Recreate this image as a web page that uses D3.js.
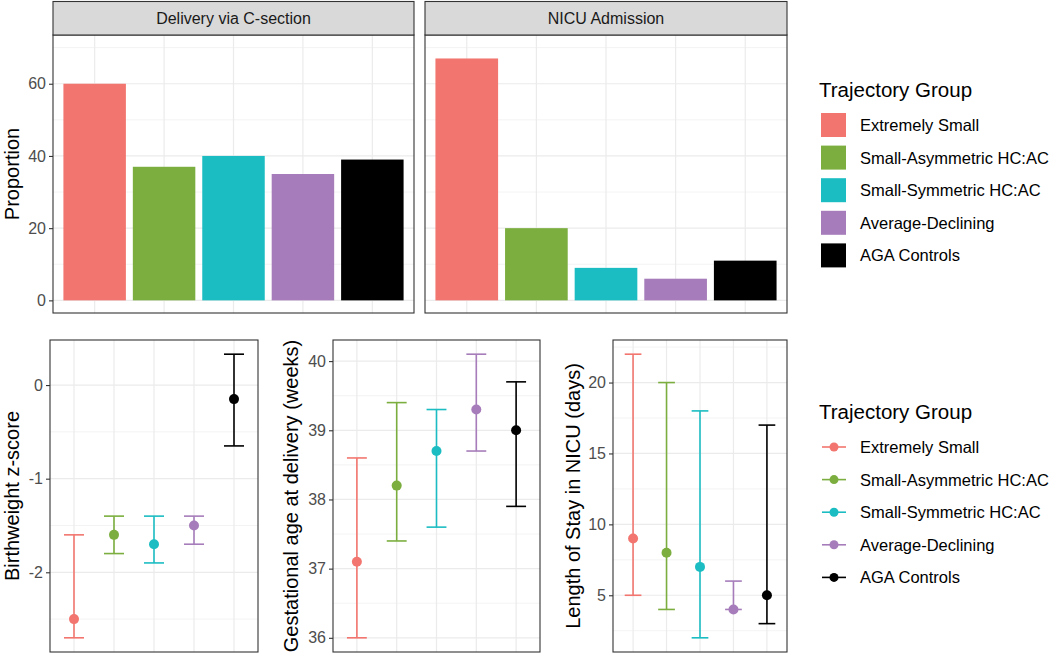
<!DOCTYPE html>
<html>
<head>
  <meta charset="utf-8">
  <script src="https://d3js.org/d3.v7.min.js"></script>
  <title>Trajectory groups</title>
  <style>
    body { margin: 0; background: #fff; }
    text { font-family: "Liberation Sans", Arial, sans-serif; }
  </style>
</head>
<body>
<div class="chart"></div>
<script>
// groups and colours
var groups = ['Extremely Small', 'Small-Asymmetric HC:AC', 'Small-Symmetric HC:AC',
              'Average-Declining', 'AGA Controls'];
var colors = ['#F2766F', '#7BAE3E', '#1BBDC2', '#A67DBA', '#000000'];

// top row: proportions
var facets = ['Delivery via C-section', 'NICU Admission'];
var csection = [60, 37, 40, 35, 39];
var nicuAdmit = [67, 20, 9, 6, 11];
var propTicks = [0, 20, 40, 60];

// bottom row: medians with ranges
var bwMean = [-2.5, -1.6, -1.7, -1.5, -0.15];
var bwLow  = [-2.7, -1.8, -1.9, -1.7, -0.65];
var bwHigh = [-1.6, -1.4, -1.4, -1.4, 0.33];
var bwTicks = [-2, -1, 0];

var gaMean = [37.1, 38.2, 38.7, 39.3, 39.0];
var gaLow  = [36.0, 37.4, 37.6, 38.7, 37.9];
var gaHigh = [38.6, 39.4, 39.3, 40.1, 39.7];
var gaTicks = [36, 37, 38, 39, 40];

var losMean = [9, 8, 7, 4, 5];
var losLow  = [5, 4, 2, 4, 3];
var losHigh = [22, 20, 18, 6, 17];
var losTicks = [5, 10, 15, 20];

var W = 1050, H = 660;
var svg = d3.select('.chart').append('svg')
  .attr('width', W).attr('height', H);

var grid = '#EBEBEB', border = '#333333', tickCol = '#4D4D4D';

function expand(lo, hi) {
  var d = (hi - lo) * 0.05;
  return [lo - d, hi + d];
}

// draws background grid + y axis for a panel, returns scales
function panel(x0, x1, y0, y1, domain, ticks, withAxis) {
  var x = d3.scaleLinear().domain([0.4, 5.6]).range([x0, x1]);
  var y = d3.scaleLinear().domain(domain).range([y1, y0]);
  var g = svg.append('g');
  // minor grid halfway between breaks
  var step = ticks[1] - ticks[0];
  var minor = [];
  for (var i = 0; i < ticks.length + 1; i++) {
    var v = ticks[0] - step / 2 + i * step;
    if (v > domain[0] && v < domain[1]) minor.push(v);
  }
  g.selectAll('.minor').data(minor).enter().append('line')
    .attr('x1', x0).attr('x2', x1)
    .attr('y1', function(d) { return y(d); }).attr('y2', function(d) { return y(d); })
    .attr('stroke', grid).attr('stroke-width', 0.6);
  g.selectAll('.major').data(ticks).enter().append('line')
    .attr('x1', x0).attr('x2', x1)
    .attr('y1', function(d) { return y(d); }).attr('y2', function(d) { return y(d); })
    .attr('stroke', grid).attr('stroke-width', 1.2);
  g.selectAll('.vgrid').data([1, 2, 3, 4, 5]).enter().append('line')
    .attr('y1', y0).attr('y2', y1)
    .attr('x1', function(d) { return x(d); }).attr('x2', function(d) { return x(d); })
    .attr('stroke', grid).attr('stroke-width', 1.2);
  if (withAxis) {
    var ax = svg.append('g').attr('transform', 'translate(' + x0 + ',0)')
      .call(d3.axisLeft(y).tickValues(ticks).tickSize(4).tickPadding(3)
        .tickFormat(function(d) { return String(d); }));
    ax.select('.domain').remove();
    ax.selectAll('line').attr('stroke', border).attr('stroke-width', 1.1);
    ax.selectAll('text').attr('fill', tickCol).style('font-size', '16px')
      .style('font-family', '"Liberation Sans", Arial, sans-serif');
  }
  return {x: x, y: y, x0: x0, x1: x1, y0: y0, y1: y1};
}

function frame(p) {
  svg.append('rect').attr('x', p.x0).attr('y', p.y0)
    .attr('width', p.x1 - p.x0).attr('height', p.y1 - p.y0)
    .attr('fill', 'none').attr('stroke', border).attr('stroke-width', 1.1);
}

function yTitle(label, x, cy) {
  svg.append('text').attr('transform', 'translate(' + x + ',' + cy + ') rotate(-90)')
    .attr('text-anchor', 'middle').style('font-size', '20px').attr('fill', '#000')
    .text(label);
}

// ---- top row: bar facets
var topDomain = expand(0, 70);
var topPanels = [[53, 414], [425, 787]];
var topData = [csection, nicuAdmit];
topPanels.forEach(function(pp, k) {
  var p = panel(pp[0], pp[1], 35, 313, topDomain, propTicks, k === 0);
  svg.append('g').selectAll('rect').data(topData[k]).enter().append('rect')
    .attr('x', function(d, i) { return p.x(i + 1 - 0.45); })
    .attr('width', p.x(1.45) - p.x(0.55))
    .attr('y', function(d) { return p.y(d); })
    .attr('height', function(d) { return p.y(0) - p.y(d); })
    .attr('fill', function(d, i) { return colors[i]; });
  frame(p);
  // strip
  svg.append('rect').attr('x', pp[0]).attr('y', 1.5)
    .attr('width', pp[1] - pp[0]).attr('height', 33.5)
    .attr('fill', '#D9D9D9').attr('stroke', border).attr('stroke-width', 1.1);
  svg.append('text').attr('x', (pp[0] + pp[1]) / 2).attr('y', 24)
    .attr('text-anchor', 'middle').style('font-size', '16px').attr('fill', '#1A1A1A')
    .text(facets[k]);
});
yTitle('Proportion', 19, 174);

// ---- bottom row: point ranges
var bottom = [
  {x0: 50, x1: 258, mean: bwMean, lo: bwLow, hi: bwHigh, ticks: bwTicks,
   title: 'Birthweight z-score', tx: 19},
  {x0: 333, x1: 540, mean: gaMean, lo: gaLow, hi: gaHigh, ticks: gaTicks,
   title: 'Gestational age at delivery (weeks)', tx: 298},
  {x0: 613, x1: 787, mean: losMean, lo: losLow, hi: losHigh, ticks: losTicks,
   title: 'Length of Stay in NICU (days)', tx: 580}
];
bottom.forEach(function(b) {
  var dom = expand(d3.min(b.lo), d3.max(b.hi));
  var p = panel(b.x0, b.x1, 340, 652, dom, b.ticks, true);
  var g = svg.append('g');
  var idx = d3.range(b.mean.length);
  g.selectAll('.v').data(idx).enter().append('line')
    .attr('x1', function(i) { return p.x(i + 1); }).attr('x2', function(i) { return p.x(i + 1); })
    .attr('y1', function(i) { return p.y(b.lo[i]); }).attr('y2', function(i) { return p.y(b.hi[i]); })
    .attr('stroke', function(i) { return colors[i]; }).attr('stroke-width', 1.6);
  ['lo', 'hi'].forEach(function(key) {
    g.selectAll('.cap' + key).data(idx).enter().append('line')
      .attr('x1', function(i) { return p.x(i + 0.75); }).attr('x2', function(i) { return p.x(i + 1.25); })
      .attr('y1', function(i) { return p.y(b[key][i]); }).attr('y2', function(i) { return p.y(b[key][i]); })
      .attr('stroke', function(i) { return colors[i]; }).attr('stroke-width', 1.6);
  });
  g.selectAll('circle').data(idx).enter().append('circle')
    .attr('cx', function(i) { return p.x(i + 1); })
    .attr('cy', function(i) { return p.y(b.mean[i]); })
    .attr('r', 5).attr('fill', function(i) { return colors[i]; });
  frame(p);
  yTitle(b.title, b.tx, 496);
});

// ---- legends
function legend(top, kind) {
  var g = svg.append('g').attr('transform', 'translate(819,' + top + ')');
  g.append('text').attr('x', 0).attr('y', 0).style('font-size', '20.5px')
    .attr('fill', '#000').text('Trajectory Group');
  var rows = g.selectAll('.row').data(groups).enter().append('g')
    .attr('transform', function(d, i) { return 'translate(0,' + (28 + i * 32.6) + ')'; });
  if (kind === 'bar') {
    rows.append('rect').attr('x', 2).attr('y', -12).attr('width', 25).attr('height', 24)
      .attr('fill', function(d, i) { return colors[i]; });
  } else {
    rows.append('line').attr('x1', 3).attr('x2', 27).attr('y1', 0).attr('y2', 0)
      .attr('stroke', function(d, i) { return colors[i]; }).attr('stroke-width', 1.6);
    rows.append('circle').attr('cx', 15).attr('cy', 0).attr('r', 4.5)
      .attr('fill', function(d, i) { return colors[i]; });
  }
  rows.append('text').attr('x', 41).attr('y', 6).style('font-size', '16.5px')
    .attr('fill', '#000').text(function(d) { return d; });
}
legend(97, 'bar');
legend(419, 'point');
</script>
</body>
</html>
